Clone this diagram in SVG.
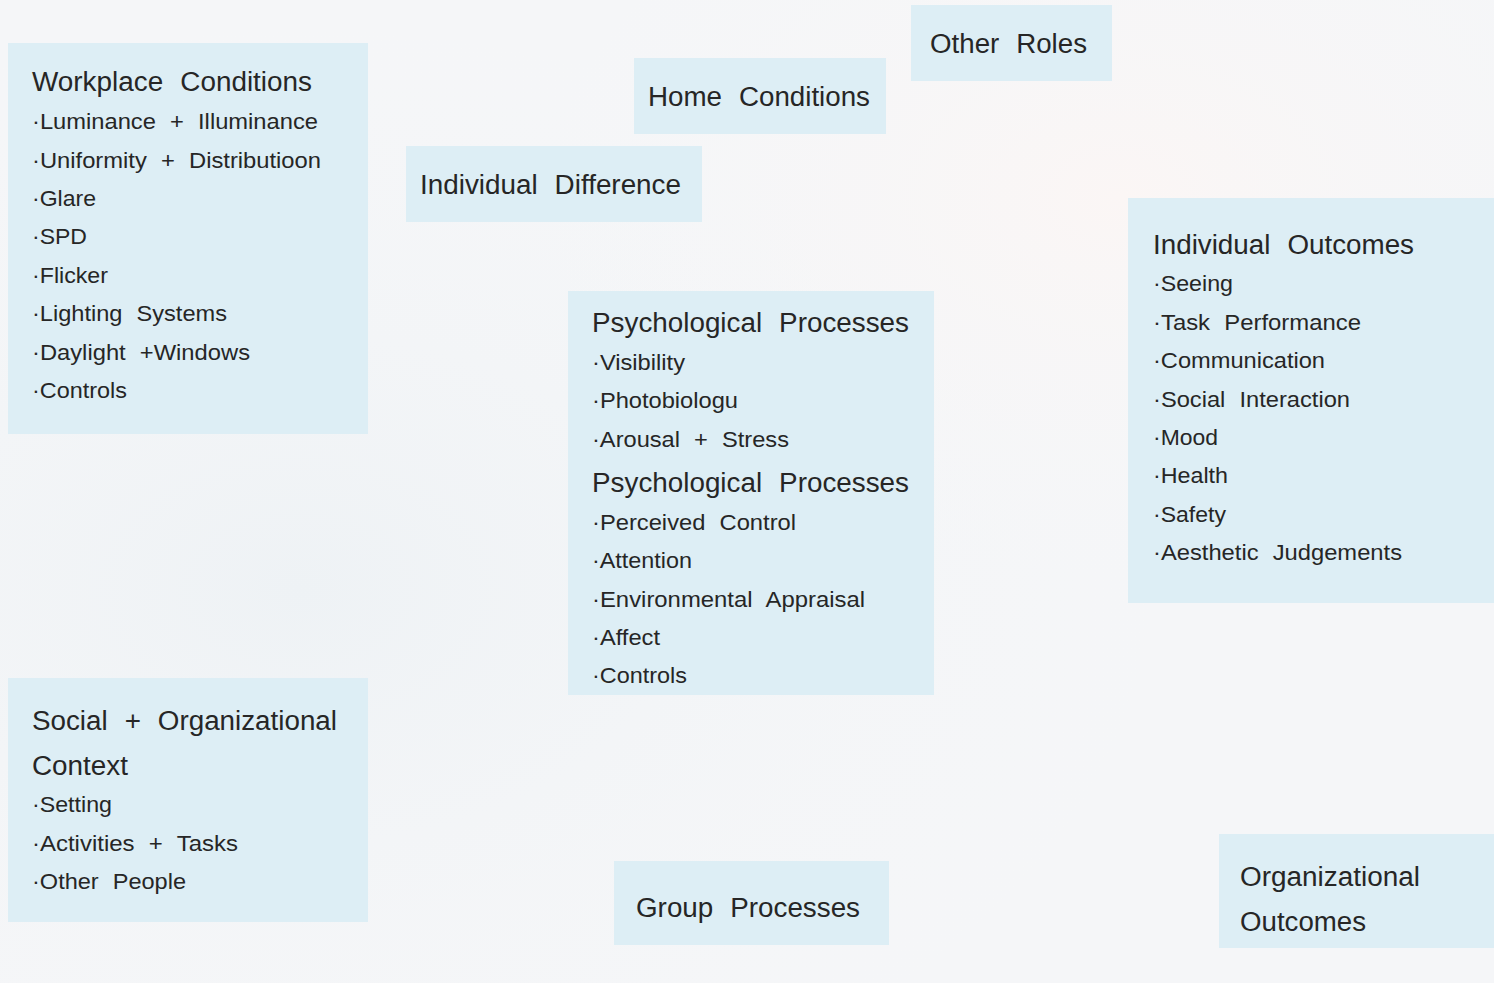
<svg xmlns="http://www.w3.org/2000/svg" width="1494" height="983" viewBox="0 0 1494 983">
<defs>
<radialGradient id="bg1" cx="0.2" cy="0.6" r="0.6"><stop offset="0" stop-color="#eef2f5"/><stop offset="1" stop-color="#f6f7f8" stop-opacity="0"/></radialGradient>
<radialGradient id="bg2" cx="0.75" cy="0.2" r="0.4"><stop offset="0" stop-color="#fbf6f5"/><stop offset="1" stop-color="#f6f7f8" stop-opacity="0"/></radialGradient>
<style>
.box{fill:#ddeef5}
.h{font-family:"Liberation Sans",Arial,sans-serif;font-size:27px;fill:#262626;word-spacing:9px}
.i{font-family:"Liberation Sans",Arial,sans-serif;font-size:22px;fill:#262626;word-spacing:7px}
</style>
</defs>
<rect width="1494" height="983" fill="#f5f6f8"/>
<rect width="1494" height="983" fill="url(#bg1)"/>
<rect width="1494" height="983" fill="url(#bg2)"/>
<g id="connectors"/>
<g id="workplace">
<rect class="box" x="8" y="43" width="360" height="391"/>
<text class="h" x="32" y="91" textLength="280" lengthAdjust="spacingAndGlyphs">Workplace Conditions</text>
<text class="i" x="32" y="129" textLength="286" lengthAdjust="spacingAndGlyphs">·Luminance + Illuminance</text>
<text class="i" x="32" y="168" textLength="289" lengthAdjust="spacingAndGlyphs">·Uniformity + Distributioon</text>
<text class="i" x="32" y="206" textLength="64" lengthAdjust="spacingAndGlyphs">·Glare</text>
<text class="i" x="32" y="244" textLength="55" lengthAdjust="spacingAndGlyphs">·SPD</text>
<text class="i" x="32" y="283" textLength="76" lengthAdjust="spacingAndGlyphs">·Flicker</text>
<text class="i" x="32" y="321" textLength="195" lengthAdjust="spacingAndGlyphs">·Lighting Systems</text>
<text class="i" x="32" y="360" textLength="218" lengthAdjust="spacingAndGlyphs">·Daylight +Windows</text>
<text class="i" x="32" y="398" textLength="95" lengthAdjust="spacingAndGlyphs">·Controls</text>
</g>
<g id="home">
<rect class="box" x="634" y="58" width="252" height="76"/>
<text class="h" x="648" y="106" textLength="222" lengthAdjust="spacingAndGlyphs">Home Conditions</text>
</g>
<g id="other-roles">
<rect class="box" x="911" y="5" width="201" height="76"/>
<text class="h" x="930" y="53" textLength="157" lengthAdjust="spacingAndGlyphs">Other Roles</text>
</g>
<g id="individual-difference">
<rect class="box" x="406" y="146" width="296" height="76"/>
<text class="h" x="420" y="194" textLength="261" lengthAdjust="spacingAndGlyphs">Individual Difference</text>
</g>
<g id="psychological">
<rect class="box" x="568" y="291" width="366" height="404"/>
<text class="h" x="592" y="332" textLength="317" lengthAdjust="spacingAndGlyphs">Psychological Processes</text>
<text class="i" x="592" y="370" textLength="93" lengthAdjust="spacingAndGlyphs">·Visibility</text>
<text class="i" x="592" y="408" textLength="146" lengthAdjust="spacingAndGlyphs">·Photobiologu</text>
<text class="i" x="592" y="447" textLength="197" lengthAdjust="spacingAndGlyphs">·Arousal + Stress</text>
<text class="h" x="592" y="492" textLength="317" lengthAdjust="spacingAndGlyphs">Psychological Processes</text>
<text class="i" x="592" y="530" textLength="204" lengthAdjust="spacingAndGlyphs">·Perceived Control</text>
<text class="i" x="592" y="568" textLength="100" lengthAdjust="spacingAndGlyphs">·Attention</text>
<text class="i" x="592" y="607" textLength="273" lengthAdjust="spacingAndGlyphs">·Environmental Appraisal</text>
<text class="i" x="592" y="645" textLength="68" lengthAdjust="spacingAndGlyphs">·Affect</text>
<text class="i" x="592" y="683" textLength="95" lengthAdjust="spacingAndGlyphs">·Controls</text>
</g>
<g id="individual-outcomes">
<rect class="box" x="1128" y="198" width="366" height="405"/>
<text class="h" x="1153" y="254" textLength="261" lengthAdjust="spacingAndGlyphs">Individual Outcomes</text>
<text class="i" x="1153" y="291" textLength="80" lengthAdjust="spacingAndGlyphs">·Seeing</text>
<text class="i" x="1153" y="330" textLength="208" lengthAdjust="spacingAndGlyphs">·Task Performance</text>
<text class="i" x="1153" y="368" textLength="172" lengthAdjust="spacingAndGlyphs">·Communication</text>
<text class="i" x="1153" y="407" textLength="197" lengthAdjust="spacingAndGlyphs">·Social Interaction</text>
<text class="i" x="1153" y="445" textLength="65" lengthAdjust="spacingAndGlyphs">·Mood</text>
<text class="i" x="1153" y="483" textLength="75" lengthAdjust="spacingAndGlyphs">·Health</text>
<text class="i" x="1153" y="522" textLength="73" lengthAdjust="spacingAndGlyphs">·Safety</text>
<text class="i" x="1153" y="560" textLength="249" lengthAdjust="spacingAndGlyphs">·Aesthetic Judgements</text>
</g>
<g id="social">
<rect class="box" x="8" y="678" width="360" height="244"/>
<text class="h" x="32" y="730" textLength="305" lengthAdjust="spacingAndGlyphs">Social + Organizational</text>
<text class="h" x="32" y="775" textLength="96" lengthAdjust="spacingAndGlyphs">Context</text>
<text class="i" x="32" y="812" textLength="80" lengthAdjust="spacingAndGlyphs">·Setting</text>
<text class="i" x="32" y="851" textLength="206" lengthAdjust="spacingAndGlyphs">·Activities + Tasks</text>
<text class="i" x="32" y="889" textLength="154" lengthAdjust="spacingAndGlyphs">·Other People</text>
</g>
<g id="group-processes">
<rect class="box" x="614" y="861" width="275" height="84"/>
<text class="h" x="636" y="917" textLength="224" lengthAdjust="spacingAndGlyphs">Group Processes</text>
</g>
<g id="organizational-outcomes">
<rect class="box" x="1219" y="834" width="275" height="114"/>
<text class="h" x="1240" y="886" textLength="180" lengthAdjust="spacingAndGlyphs">Organizational</text>
<text class="h" x="1240" y="931" textLength="126" lengthAdjust="spacingAndGlyphs">Outcomes</text>
</g>
</svg>
